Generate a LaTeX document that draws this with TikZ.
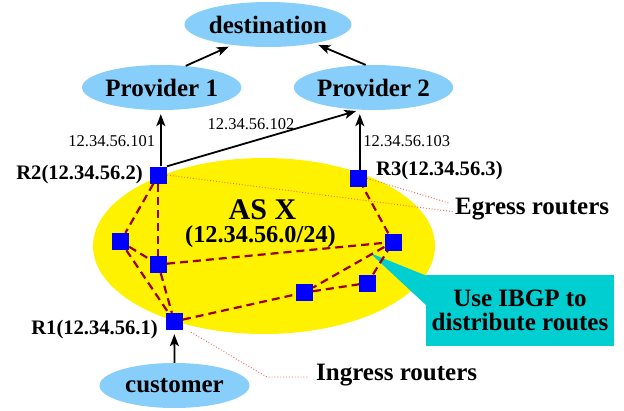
\documentclass[tikz,border=0pt]{standalone}
\usepackage{fontspec}
\setmainfont{Liberation Serif}
\usetikzlibrary{shapes.geometric,arrows.meta}
\definecolor{skyb}{RGB}{135,206,250}
\definecolor{turq}{RGB}{0,206,209}
\definecolor{edgered}{RGB}{153,0,0}
\definecolor{dotred}{RGB}{255,90,90}
\begin{document}
\begin{tikzpicture}[x=1pt,y=-1pt,
 cloud/.style={ellipse, fill=skyb, minimum width=150pt, minimum height=45pt, inner sep=0pt, font=\fontsize{25}{25}\selectfont\bfseries},
 router/.style={rectangle, fill=blue, minimum size=17pt, inner sep=0pt},
 ibgp/.style={draw=edgered, line width=2.2pt, dash pattern=on 8pt off 5pt},
 arr/.style={-{Stealth[length=12pt,width=9pt,inset=3pt]}, line width=1.8pt, shorten >=4pt},
 pointer/.style={dotred, line width=0.9pt, dotted},
 iplabel/.style={font=\fontsize{16.5}{16.5}\selectfont, inner sep=0pt},
 rlabel/.style={font=\fontsize{20.6}{20.6}\selectfont\bfseries, inner sep=0pt},
 biglabel/.style={font=\fontsize{25}{25}\selectfont\bfseries, inner sep=0pt},
]
\useasboundingbox (0,0) rectangle (624,410);

% AS ellipse
\node[ellipse, fill=yellow, minimum width=342pt, minimum height=176pt, inner sep=0pt] (asx) at (264,246) {};

% clouds
\node[cloud] (dest) at (268,24.5) {destination};
\node[cloud] (p1) at (161.7,87.5) {Provider 1};
\node[cloud] (p2) at (373.5,87.5) {Provider 2};
\node[cloud] (cust) at (174.5,385.5) {customer};

% routers
\node[router] (r2) at (158.3,175) {};
\node[router] (r3) at (358.3,178.3) {};
\node[router] (ra) at (120.5,241.5) {};
\node[router] (rb) at (158.3,264.5) {};
\node[router] (r1) at (174.3,321.5) {};
\node[router] (rc) at (304.3,292.5) {};
\node[router] (rd) at (367.7,283) {};
\node[router] (re) at (393,242) {};

% labels
\node[biglabel, font=\fontsize{30}{30}\selectfont\bfseries] (asname) at (262.5,209.5) {AS X};
\node[biglabel, font=\fontsize{24.3}{24.3}\selectfont\bfseries] (asnet) at (260.5,237) {(12.34.56.0/24)};
\node[rlabel, anchor=east] (r2l) at (143,175) {R2(12.34.56.2)};
\node[rlabel, anchor=west] (r3l) at (376,171) {R3(12.34.56.3)};
\node[rlabel, anchor=east] (r1l) at (158,330) {R1(12.34.56.1)};
\node[iplabel] (ip101) at (111.7,140.7) {12.34.56.101};
\node[iplabel] (ip102) at (251,124) {12.34.56.102};
\node[iplabel] (ip103) at (406.7,140.7) {12.34.56.103};
\node[biglabel, anchor=west] (egress) at (455,209) {Egress routers};
\node[biglabel, anchor=west] (ingress) at (316,375) {Ingress routers};

% callout
\coordinate (tip) at (370,253);
\fill[turq] (tip) -- (427,276) -- (427,306) -- cycle;
\node[fill=turq, minimum width=188pt, minimum height=71pt, inner sep=0pt, align=center,
      font=\fontsize{25}{23.5}\selectfont\bfseries] (callout) at (520,310.3) {Use IBGP to\\distribute routes};

% IBGP sessions
\draw[ibgp] (r2) -- (ra);
\draw[ibgp] (r2) -- (rb);
\draw[ibgp] (ra) -- (rb);
\draw[ibgp] (ra) -- (r1);
\draw[ibgp] (rb) -- (r1);
\draw[ibgp] (rb) -- (re);
\draw[ibgp] (r1) -- (rc);
\draw[ibgp] (rc) -- (rd);
\draw[ibgp] (rd) -- (re);
\draw[ibgp] (re) -- (rc);
\draw[ibgp] (re) -- (r3);

% pointer lines
\coordinate (eg1) at (453,211.7);
\coordinate (eg2) at (450,203.3);
\draw[pointer] (r2.east) -- (eg1);
\draw[pointer] (r3.east) -- (eg2);
\coordinate (in1) at (267,377);
\coordinate (in2) at (309,377);
\draw[pointer] ([shift={(8pt,-2pt)}]r1.south east) -- (in1) -- (in2);

% EBGP arrows
\draw[arr] (p1.42) -- (dest.210);
\draw[arr] (p2.109) -- (dest.-22);
\draw[arr] ([xshift=2.5pt]r2.north) -- ([xshift=2.5pt]r2.north |- p1.south);
\draw[arr] (r2.north east) -- (p2.239);
\draw[arr] ([xshift=1.5pt]r3.north) -- ([xshift=1.5pt]r3.north |- p2.south);
\draw[arr] (cust.north) -- (r1.south);
\end{tikzpicture}
\end{document}
